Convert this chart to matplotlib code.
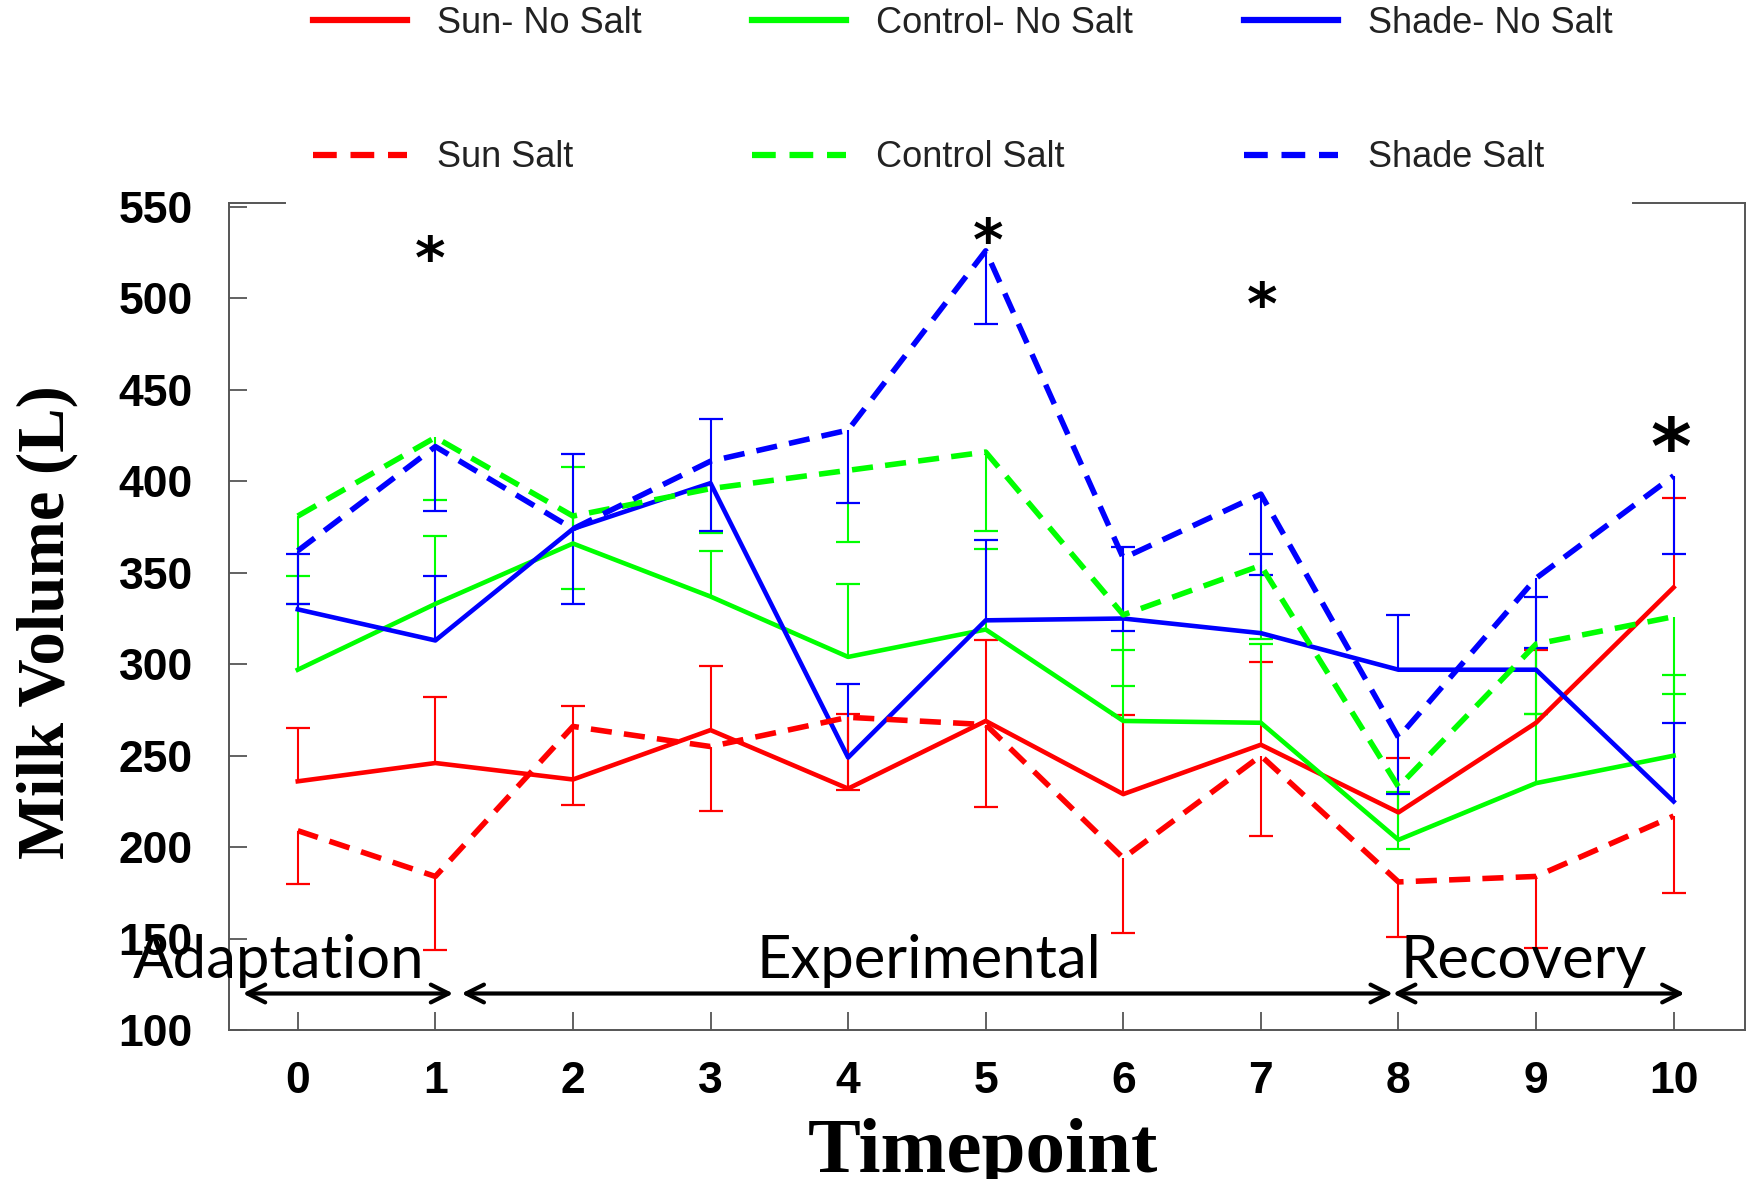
import numpy as np
import matplotlib.pyplot as plt

# milk volume per timepoint
timepoints = np.arange(11)
sun_no_salt = [236, 246, 237, 264, 232, 269, 229, 256, 219, 268, 342]
sun_no_salt_err = [29, 36, 40, 35, 41, 44, 43, 45, 30, 40, 49]
sun_salt = [209, 184, 266, 255, 271, 267, 194, 250, 181, 184, 217]
sun_salt_err = [29, 40, 43, 35, 40, 45, 41, 44, 30, 39, 42]
control_no_salt = [297, 333, 366, 337, 304, 319, 269, 268, 204, 235, 250]
control_no_salt_err = [36, 37, 42, 25, 40, 44, 39, 43, 26, 38, 44]
control_salt = [381, 424, 381, 396, 406, 416, 327, 354, 233, 311, 326]
control_salt_err = [33, 34, 40, 24, 39, 43, 39, 40, 34, 38, 42]
shade_no_salt = [330, 313, 374, 399, 249, 324, 325, 317, 297, 297, 225]
shade_no_salt_err = [30, 35, 41, 35, 40, 44, 39, 43, 30, 40, 43]
shade_salt = [362, 419, 374, 411, 428, 526, 358, 393, 260, 347, 403]
shade_salt_err = [29, 35, 41, 38, 40, 40, 40, 44, 31, 38, 43]

# significance stars
star_x = [0.96, 5.02, 7.01, 9.98]
star_y = [520, 530, 495, 416]

# phases
phase_names = ['Adaptation', 'Experimental', 'Recovery']
phase_start = [-0.4, 1.19, 7.96]
phase_end = [1.13, 7.96, 10.08]
phase_label_x = [-0.14, 4.59, 8.91]

series = [
    ('Sun- No Salt', sun_no_salt, sun_no_salt_err, '#ff0000', False),
    ('Control- No Salt', control_no_salt, control_no_salt_err, '#00ff00', False),
    ('Shade- No Salt', shade_no_salt, shade_no_salt_err, '#0000ff', False),
    ('Sun Salt', sun_salt, sun_salt_err, '#ff0000', True),
    ('Control Salt', control_salt, control_salt_err, '#00ff00', True),
    ('Shade Salt', shade_salt, shade_salt_err, '#0000ff', True),
]

fig = plt.figure(figsize=(17.52, 11.79), dpi=100)
ax = fig.add_axes([0.1307, 0.1263, 0.8654, 0.7013])

handles = {}
for name, vals, err, col, salt in series:
    vals = np.array(vals)
    err = np.array(err)
    # salt groups: bars go down, no-salt groups: bars go up
    ends = vals - err if salt else vals + err
    ax.vlines(timepoints, vals, ends, color=col, lw=1.5, zorder=2)
    ax.plot(timepoints, ends, ls='none', marker='_', ms=17, mew=1.6, color=col, zorder=2)
    if salt:
        ln, = ax.plot(timepoints, vals, color=col, lw=4, dashes=(3.8, 2.2), zorder=3)
    else:
        ln, = ax.plot(timepoints, vals, color=col, lw=3.3, zorder=3)
    handles[name] = ln

for i, (sx, sy) in enumerate(zip(star_x, star_y)):
    if i == len(star_x) - 1:
        ax.text(sx, sy, '*', fontsize=56, fontweight='bold', ha='center', va='center')
    else:
        ax.text(sx, sy, '*', fontsize=42, fontweight='bold', ha='center', va='center')

for name, x0, x1, lx in zip(phase_names, phase_start, phase_end, phase_label_x):
    ax.annotate('', xy=(x1, 120), xytext=(x0, 120),
                arrowprops=dict(arrowstyle='<->', lw=3, color='black', mutation_scale=32,
                                shrinkA=0, shrinkB=0), annotation_clip=False)
    ax.text(lx, 137.5, name, fontsize=43, family='Lato', ha='center', va='center', clip_on=False)

ax.set_xlim(-0.5, 10.52)
ax.set_ylim(100, 552)
ax.set_xticks(timepoints)
ax.set_yticks(np.arange(100, 551, 50))
ax.tick_params(direction='in', length=13, width=1.3, color='#555555')
ax.tick_params(axis='x', pad=22, labelsize=32)
ax.tick_params(axis='y', pad=26, labelsize=32)
for lab in ax.get_xticklabels() + ax.get_yticklabels():
    lab.set_fontweight('bold')
    lab.set_family('Liberation Sans')

for sp in ['left', 'right', 'bottom']:
    ax.spines[sp].set_color('#555555')
    ax.spines[sp].set_linewidth(1.4)
ax.spines['top'].set_visible(False)
# top spine is broken by the legend
ax.plot([0, 0.037], [1, 1], transform=ax.transAxes, color='#555555', lw=1.4, clip_on=False)
ax.plot([0.926, 1], [1, 1], transform=ax.transAxes, color='#555555', lw=1.4, clip_on=False)

fig.text(0.027, 0.472, 'Milk Volume (L)', rotation=90, ha='center', va='center',
         fontsize=48, fontweight='bold', family='Liberation Serif')
fig.text(0.561, 0.006, 'Timepoint', ha='center', va='baseline',
         fontsize=57, fontweight='bold', family='Liberation Serif')

order = ['Sun- No Salt', 'Sun Salt', 'Control- No Salt', 'Control Salt', 'Shade- No Salt', 'Shade Salt']
leg = fig.legend([handles[n] for n in order], order, ncol=3, loc='upper left',
                 bbox_to_anchor=(0.1787, 0.995), frameon=False, borderpad=0, borderaxespad=0,
                 handlelength=2.6, handletextpad=0.82, columnspacing=3.08, labelspacing=2.75,
                 prop={'family': 'Liberation Sans', 'size': 26})
for t in leg.get_texts():
    t.set_color('#222222')
for ln in leg.get_lines():
    ln.set_linewidth(4.5)

fig.savefig('out.png', dpi=100)
